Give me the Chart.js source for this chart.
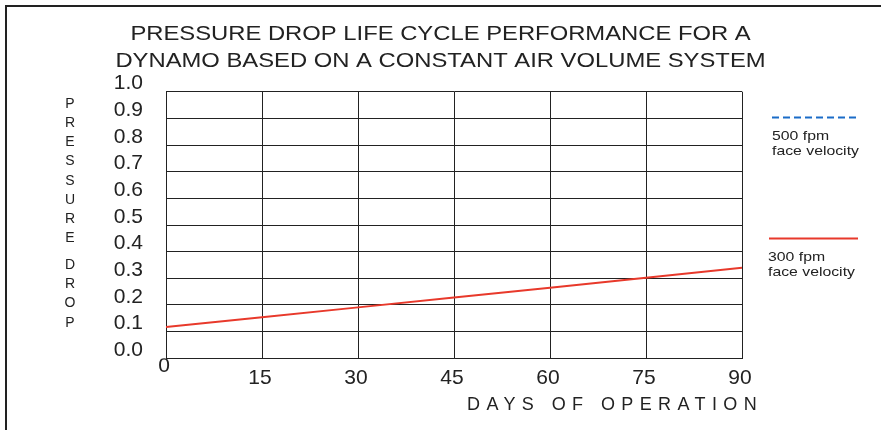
<!DOCTYPE html>
<html lang="en">
<head>
  <meta charset="UTF-8">
  <title>Pressure drop life cycle performance</title>
  <script src="https://cdn.jsdelivr.net/npm/chart.js"></script>
  <style>
    html, body { margin: 0; padding: 0; background: #fff; overflow: hidden; }
    #wrap { position: relative; width: 881px; height: 430px; }
  </style>
</head>
<body>
  <div id="wrap"><canvas id="chart" width="881" height="430"></canvas></div>

  <script>
    // data
    const days = [0, 15, 30, 45, 60, 75, 90];
    const drop300 = [0.117, 0.154, 0.191, 0.228, 0.265, 0.302, 0.34];
    const drop500 = [];   // shown in the legend only, no curve drawn
    const titleLines = ['PRESSURE DROP LIFE CYCLE PERFORMANCE FOR A',
                        'DYNAMO BASED ON A CONSTANT AIR VOLUME SYSTEM'];
    const yTitleWords = ['PRESSURE', 'DROP'];
    const xTitle = 'DAYS OF OPERATION';
    const legendLabels = [['500 fpm', 'face velocity'], ['300 fpm', 'face velocity']];

    const FONT = "'Liberation Sans', Arial, sans-serif";
    const INK = '#222';

    // text drawn a little wider, like the original
    function wideText(ctx, txt, x, y, sx) {
      ctx.save();
      ctx.translate(x, y);
      ctx.scale(sx, 1);
      ctx.fillText(txt, 0, 0);
      ctx.restore();
    }

    // title, frame, axis titles and the legend drawn by hand
    const decor = {
      id: 'decor',
      beforeDraw(chart) {
        const ctx = chart.ctx;
        ctx.save();
        ctx.fillStyle = '#fff';
        ctx.fillRect(0, 0, chart.width, chart.height);
        ctx.fillStyle = INK;
        ctx.fillRect(5, 5, chart.width - 5, 2);
        ctx.fillRect(5, 5, 2, chart.height - 5);
        ctx.restore();
      },
      afterDraw(chart) {
        const ctx = chart.ctx;
        ctx.save();
        ctx.fillStyle = INK;

        // main title
        ctx.font = '20px ' + FONT;
        ctx.textAlign = 'center';
        ctx.textBaseline = 'alphabetic';
        wideText(ctx, titleLines[0], 440.5, 39.5, 1.19);
        wideText(ctx, titleLines[1], 440.5, 67, 1.19);

        // stacked y title
        ctx.font = '14px ' + FONT;
        ctx.textBaseline = 'middle';
        let y = 104;
        yTitleWords.forEach((w, i) => {
          if (i > 0) y += 7.5;
          for (const ch of w) {
            ctx.fillText(ch, 70, y);
            y += 19.2;
          }
        });

        // x title, letter spaced
        ctx.font = '18px ' + FONT;
        ctx.textAlign = 'left';
        ctx.letterSpacing = '6.4px';
        ctx.fillText(xTitle, 467, 405);
        ctx.letterSpacing = '0px';

        // legend
        const rows = [117.5, 238.5];
        const xs = [[772, 859, 772], [769, 858, 768]];
        chart.data.datasets.forEach((ds, i) => {
          ctx.strokeStyle = ds.borderColor;
          ctx.lineWidth = 2;
          ctx.setLineDash(ds.borderDash || []);
          ctx.beginPath();
          ctx.moveTo(xs[i][0], rows[i]);
          ctx.lineTo(xs[i][1], rows[i]);
          ctx.stroke();
          ctx.setLineDash([]);
          ctx.font = '13.5px ' + FONT;
          ctx.textBaseline = 'alphabetic';
          wideText(ctx, legendLabels[i][0], xs[i][2], rows[i] + 22, 1.17);
          wideText(ctx, legendLabels[i][1], xs[i][2], rows[i] + 37.5, 1.17);
        });
        ctx.restore();
      }
    };

    new Chart(document.getElementById('chart'), {
      type: 'line',
      data: {
        datasets: [
          {
            label: '500 fpm face velocity',
            data: drop500,
            borderColor: '#1a6cc8',
            borderDash: [7, 4],
            borderWidth: 2,
            pointRadius: 0
          },
          {
            label: '300 fpm face velocity',
            data: days.map((d, i) => ({ x: d, y: drop300[i] })),
            borderColor: '#e8392b',
            borderWidth: 2,
            pointRadius: 0,
            tension: 0
          }
        ]
      },
      options: {
        responsive: false,
        animation: false,
        layout: { padding: { top: 91.7, right: 139, bottom: 0, left: 0 } },
        plugins: { legend: { display: false }, title: { display: false }, tooltip: { enabled: false } },
        scales: {
          x: {
            type: 'linear',
            min: 0, max: 90,
            afterFit(s) { s.height = 71.7; },
            ticks: {
              stepSize: 15,
              padding: 2.5,
              labelOffset: -2,
              autoSkip: false,
              color: INK,
              font: { family: FONT, size: 21, lineHeight: 0.54 },
              maxRotation: 0,
              callback: v => v === 0 ? '0' : ['', String(v)]
            },
            grid: { color: INK, lineWidth: 1, drawTicks: false },
            border: { color: INK, width: 1 }
          },
          y: {
            min: 0, max: 1,
            afterFit(s) { s.width = 166; },
            ticks: {
              stepSize: 0.1,
              padding: 23,
              labelOffset: -8,
              autoSkip: false,
              color: INK,
              font: { family: FONT, size: 21 },
              callback: v => v.toFixed(1)
            },
            grid: { color: INK, lineWidth: 1, drawTicks: false },
            border: { color: INK, width: 1 }
          }
        }
      },
      plugins: [decor]
    });
  </script>
</body>
</html>
